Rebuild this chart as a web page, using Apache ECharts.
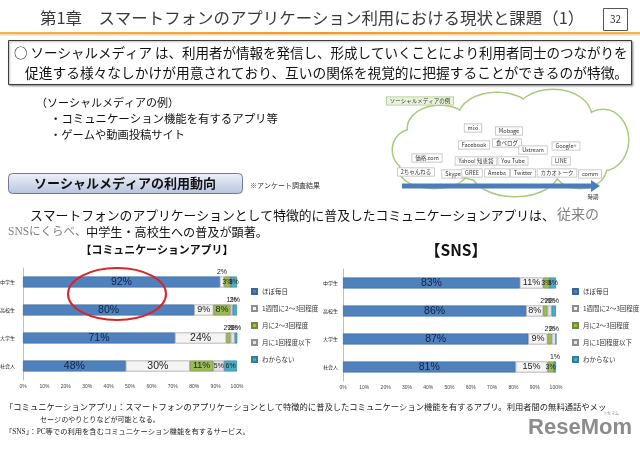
<!DOCTYPE html>
<html><head><meta charset="utf-8">
<script src="https://cdn.jsdelivr.net/npm/echarts@6/dist/echarts.min.js"></script>
<style>html,body{margin:0;padding:0;background:#fff}#c{width:640px;height:449px}</style>
</head><body><div id="c"></div>
<script>
// ---- data ----
const groups = ['中学生', '高校生', '大学生', '社会人'];
const freqNames = ['ほぼ毎日', '1週間に2～3回程度', '月に2～3回程度', '月に1回程度以下', 'わからない'];
const appDaily   = [92, 80, 71, 48];
const appWeekly  = [2, 9, 24, 30];
const appMonthly = [3, 8, 2, 11];
const appRare    = [0, 1, 2, 5];
const appUnknown = [3, 2, 2, 6];
const snsDaily   = [83, 86, 87, 81];
const snsWeekly  = [11, 8, 9, 15];
const snsMonthly = [3, 2, 2, 3];
const snsRare    = [0, 2, 2, 0];
const snsUnknown = [3, 2, 0, 1];
const pctTicks = [0, 10, 20, 30, 40, 50, 60, 70, 80, 90, 100];
const cloudItems = [
  ['mixi', 473, 128], ['Mobage', 509, 131], ['Facebook', 474, 145], ['食べログ', 507, 143],
  ['Ustream', 533, 150], ['Google+', 566, 146], ['価格.com', 427, 158], ['Yahoo! 知恵袋', 476, 161],
  ['You Tube', 513, 161], ['LINE', 561, 161], ['2ちゃんねる', 416, 172], ['Skype', 453, 174],
  ['GREE', 472, 173], ['Ameba', 497, 173], ['Twitter', 523, 173], ['カカオトーク', 557, 173], ['comm', 590, 174]
];

// ---- helpers ----
const JP = '"Noto Sans CJK JP", sans-serif';
const SERIF = '"Liberation Serif", "Noto Sans CJK JP", serif';
const mctx = document.createElement('canvas').getContext('2d');
[JP, SERIF].forEach(f => { mctx.font = '100px ' + f; mctx.measureText('従来のSNS'); mctx.measureText('従来のSNS'); });
function fit(text, width, family, weight) {
  mctx.font = (weight || 'normal') + ' 100px ' + family;
  return 100 * width / mctx.measureText(text).width;
}
function txt(text, x, y, opt) {
  opt = opt || {};
  const fam = opt.family || JP, w = opt.weight || 'normal';
  const size = opt.fitW ? fit(text, opt.fitW, fam, w) : (opt.size || 12);
  const al = opt.align || 'left';
  const st = {text: text, font: w + ' ' + size.toFixed(2) + 'px ' + fam, fill: opt.color || '#111',
    textAlign: al, align: al, textVerticalAlign: 'middle', verticalAlign: 'middle'};
  if (opt.bg) { st.backgroundColor = opt.bg; st.borderColor = opt.border; st.borderWidth = 0.7; st.padding = opt.pad || [1, 3]; }
  return {type: 'text', x: x, y: y, z: opt.z || 20, silent: true, style: st};
}

const fills = ['#4F81BD', '#F4F4F4', '#9BBB59', '#E6E0EC', '#4BACC6'];
const borders = ['#3A669C', '#8F8F8F', '#71893F', '#8F8F8F', '#357D91'];
const labelInk = ['#0E2148', '#222', '#222', '#222', '#222'];

function makeSeries(arrs, idx) {
  return arrs.map((arr, k) => ({
    type: 'bar', name: freqNames[k], stack: 'st' + idx, xAxisIndex: idx, yAxisIndex: idx,
    barWidth: 11,
    emphasis: {disabled: true},
    itemStyle: {color: fills[k], borderColor: borders[k], borderWidth: 0.6},
    label: {show: true, position: 'inside', color: labelInk[k], textBorderWidth: 0, textBorderColor: fills[k],
      fontFamily: '"Liberation Sans", sans-serif', formatter: '{c}%', opacity: 1},
    data: arr.map(v => ({
      value: v,
      label: v < 3
        ? {show: v > 0, position: 'top', distance: 1, fontSize: 7, color: labelInk[k]}
        : {show: true, position: 'inside', fontSize: v >= 20 ? 10.5 : (v >= 8 ? 9 : 7), color: labelInk[k]}
    }))
  }));
}

// cloud
const cloudEll = [
  [440, 128, 32, 22], [497, 117, 38, 24], [553, 116, 38, 26], [603, 140, 25, 30],
  [412, 150, 19, 20], [434, 170, 34, 18], [515, 170, 44, 26], [580, 168, 26, 20], [510, 145, 85, 38]
];
const graphics = [];
cloudEll.forEach(e => graphics.push({type: 'ellipse', z: 1, silent: true, shape: {cx: e[0], cy: e[1], rx: e[2], ry: e[3]}, style: {fill: '#fff', stroke: '#A9C97C', lineWidth: 3}}));
cloudEll.forEach(e => graphics.push({type: 'ellipse', z: 2, silent: true, shape: {cx: e[0], cy: e[1], rx: e[2], ry: e[3]}, style: {fill: '#fff'}}));
cloudItems.forEach(c => graphics.push(txt(c[0], c[1], c[2], {size: 5.5, align: 'center', color: '#333', bg: '#fff', border: '#B8B8B8', z: 5})));
graphics.push(txt('ソーシャルメディアの例', 420, 101, {size: 5.5, color: '#333', bg: '#EAF1DD', border: '#A9C97C', z: 5, align: 'center'}));
graphics.push({type: 'rect', z: 4, silent: true, shape: {x: 402, y: 183.5, width: 190, height: 5}, style: {fill: '#4A7EBB'}});
graphics.push({type: 'polygon', z: 4, silent: true, shape: {points: [[591, 180], [600, 186], [591, 192]]}, style: {fill: '#4A7EBB'}});
graphics.push(txt('時期', 593, 197, {size: 5.5, align: 'center', color: '#333'}));

// title and header
graphics.push(txt('第1章　スマートフォンのアプリケーション利用における現状と課題（1）', 40, 18, {fitW: 545, color: '#3A3A3A'}));
graphics.push({type: 'rect', z: 10, silent: true, shape: {x: 603.5, y: 8.5, width: 24, height: 22}, style: {fill: '#fff', stroke: '#555', lineWidth: 1}});
graphics.push(txt('32', 615.5, 19.5, {size: 10, align: 'center', color: '#333'}));
graphics.push({type: 'rect', z: 10, silent: true, shape: {x: 0, y: 32, width: 640, height: 2.5},
  style: {fill: {type: 'linear', x: 0, y: 0, x2: 1, y2: 0, colorStops: [{offset: 0, color: '#F3B453'}, {offset: 0.5, color: '#EE9A2E'}, {offset: 1, color: '#F3B453'}]}}});
graphics.push({type: 'rect', z: 10, silent: true, shape: {x: 0, y: 34.5, width: 640, height: 1}, style: {fill: '#F9D9A6'}});

// intro box
graphics.push({type: 'rect', z: 10, silent: true, shape: {x: 8.5, y: 40.5, width: 623, height: 44}, style: {fill: '#fff', stroke: '#3C3C3C', lineWidth: 1, shadowBlur: 2, shadowOffsetX: 1, shadowOffsetY: 1, shadowColor: 'rgba(0,0,0,0.35)'}});
graphics.push(txt('○ ソーシャルメディア は、利用者が情報を発信し、形成していくことにより利用者同士のつながりを', 14, 52.5, {fitW: 614}));
graphics.push(txt('促進する様々なしかけが用意されており、互いの関係を視覚的に把握することができるのが特徴。', 25, 72.5, {fitW: 603}));

// examples
graphics.push(txt('（ソーシャルメディアの例）', 36, 103, {size: 11}));
graphics.push(txt('・コミュニケーション機能を有するアプリ等', 50, 119, {fitW: 228}));
graphics.push(txt('・ゲームや動画投稿サイト', 50, 135, {fitW: 135}));

// section header
graphics.push({type: 'rect', z: 10, silent: true, shape: {x: 8.5, y: 173.5, width: 234, height: 20, r: 4},
  style: {stroke: '#6B7C98', lineWidth: 1, fill: {type: 'linear', x: 0, y: 0, x2: 0, y2: 1, colorStops: [{offset: 0, color: '#EEF2F9'}, {offset: 0.5, color: '#D3DCEC'}, {offset: 1, color: '#B4C3DD'}]}}});
graphics.push(txt('ソーシャルメディアの利用動向', 125, 183.5, {fitW: 182, weight: 'bold', align: 'center'}));
graphics.push(txt('※アンケート調査結果', 250, 185, {fitW: 70, color: '#333'}));

// statement
graphics.push(txt('スマートフォンのアプリケーションとして特徴的に普及したコミュニケーションアプリは、', 30, 215, {fitW: 525}));
graphics.push(txt('従来の', 557, 215, {size: 14, family: SERIF, color: '#808080'}));
graphics.push(txt('SNSにくらべ、', 8, 232, {size: 11.5, family: SERIF, color: '#808080'}));
graphics.push(txt('中学生・高校生への普及が顕著。', 86, 232, {fitW: 182}));

// chart titles
graphics.push(txt('【コミュニケーションアプリ】', 157, 250, {fitW: 153, weight: 'bold', align: 'center'}));
graphics.push(txt('【SNS】', 456, 250, {fitW: 62, weight: 'bold', align: 'center'}));

// highlight ellipse
graphics.push({type: 'ellipse', z: 50, silent: true, shape: {cx: 117, cy: 294, rx: 49, ry: 26}, style: {fill: 'none', stroke: '#D7262B', lineWidth: 2}});

// footer
graphics.push(txt('「コミュニケーションアプリ」：スマートフォンのアプリケーションとして特徴的に普及したコミュニケーション機能を有するアプリ。利用者間の無料通話やメッ', 5, 408, {fitW: 602, family: SERIF, color: '#222'}));
graphics.push(txt('セージのやりとりなどが可能となる。', 40, 420, {fitW: 120, family: SERIF, color: '#222'}));
graphics.push(txt('「SNS」：PC等での利用を含むコミュニケーション機能を有するサービス。', 5, 432, {fitW: 245, family: SERIF, color: '#222'}));

// logo
graphics.push(txt('ReseMom', 580, 428, {fitW: 104, family: '"Liberation Sans Narrow", "Liberation Sans", sans-serif', weight: 'bold', align: 'center', color: '#8C8C8C'}));
graphics.push(txt('リセマム', 611, 413, {size: 4, align: 'center', color: '#8C8C8C'}));

const axisCommon = {
  x: {type: 'value', min: 0, max: 100, interval: 10, splitLine: {show: false}, axisLine: {show: false}, axisTick: {show: false},
      axisLabel: {formatter: '{value}%', fontSize: 5, color: '#444', margin: 4}},
  y: {type: 'category', data: groups, inverse: true, axisTick: {show: false},
      axisLine: {show: true, lineStyle: {color: '#BFBFBF', width: 1}},
      axisLabel: {fontSize: 5, color: '#222', fontFamily: JP}}
};

const legendBase = {orient: 'vertical', top: 283, itemWidth: 5, itemHeight: 5, itemGap: 10, icon: 'rect', selectedMode: false,
  data: freqNames, textStyle: {fontSize: 6.5, color: '#333', fontFamily: JP}};

const option = {
  animation: false,
  grid: [
    {left: 23, top: 268, width: 214, height: 112, outerBoundsMode: 'none', containLabel: false},
    {left: 343, top: 269, width: 213, height: 112, outerBoundsMode: 'none', containLabel: false}
  ],
  xAxis: [Object.assign({gridIndex: 0}, axisCommon.x), Object.assign({gridIndex: 1}, axisCommon.x)],
  yAxis: [
    Object.assign({gridIndex: 0}, axisCommon.y, {axisLabel: Object.assign({}, axisCommon.y.axisLabel, {margin: 8})}),
    Object.assign({gridIndex: 1}, axisCommon.y, {axisLabel: Object.assign({}, axisCommon.y.axisLabel, {margin: 5})})
  ],
  legend: [Object.assign({left: 246}, legendBase), Object.assign({left: 567}, legendBase)],
  series: makeSeries([appDaily, appWeekly, appMonthly, appRare, appUnknown], 0)
    .concat(makeSeries([snsDaily, snsWeekly, snsMonthly, snsRare, snsUnknown], 1)),
  graphic: {elements: graphics}
};
const chart = echarts.init(document.getElementById('c'), null, {renderer: 'canvas'});
chart.setOption(option);
</script>
</body></html>
